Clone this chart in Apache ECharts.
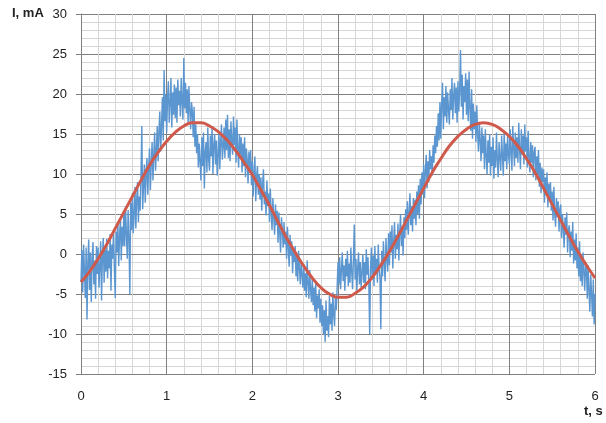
<!DOCTYPE html>
<html>
<head>
<meta charset="utf-8">
<script src="https://cdn.jsdelivr.net/npm/echarts@6/dist/echarts.min.js"></script>
<style>html,body{margin:0;padding:0;background:#fff}#chart{width:606px;height:423px}</style>
</head>
<body>
<div id="chart"></div>
<script>
// Time axis step for both series (s)
var noisyStep = 0.01;
var smoothStep = 0.1;
var xTicks = [0, 1, 2, 3, 4, 5, 6];
var yTicks = [-15, -10, -5, 0, 5, 10, 15, 20, 25, 30];
var yAxisTitle = 'I, mA';
var xAxisTitle = 't, s';

var measuredCurrent = [
-3.5,0.5,-4.8,1.2,-2.0,-5.5,0.8,-8.2,-1.0,1.8,
-4.5,0.2,-6.0,-0.5,1.5,-3.8,-0.8,-5.6,1.0,-2.5,
0.8,-4.2,-1.5,1.6,-5.8,-0.2,2.0,-3.6,0.5,-2.2,
1.9,-3.0,0.4,-1.8,2.5,-4.6,1.2,-0.6,3.0,-2.0,
-5.5,2.8,0.2,4.0,-1.5,2.2,4.5,-0.8,3.4,1.0,
5.2,1.0,6.0,2.4,-0.6,5.5,1.8,-5.0,6.4,3.0,
7.6,2.6,5.0,8.4,3.2,6.8,9.0,4.0,7.2,5.4,
9.8,16.0,5.6,8.6,11.2,6.4,10.0,12.0,7.4,10.8,
13.2,8.0,11.4,14.0,9.2,12.6,15.2,10.4,13.0,16.0,
11.6,15.4,17.8,12.8,16.0,19.6,14.2,23.0,16.6,20.0,
15.2,19.4,21.6,16.4,18.8,22.0,15.8,20.2,17.4,21.2,
17.0,20.8,16.4,21.8,18.6,20.4,17.2,22.0,19.0,16.8,
24.5,18.2,21.4,17.6,20.6,16.4,21.0,18.0,15.6,19.0,
17.8,14.6,18.4,13.4,16.2,12.6,15.0,10.8,13.8,11.6,
9.2,14.6,11.0,15.2,8.2,12.8,14.0,10.2,15.8,11.8,
10.4,14.8,12.2,16.0,10.0,13.6,15.0,11.2,14.2,9.8,
12.4,15.4,10.6,14.0,16.2,11.8,13.4,15.8,12.0,16.8,
13.0,17.4,12.0,15.6,11.6,16.6,14.0,12.4,17.2,13.6,
15.8,11.4,16.8,13.2,10.8,15.0,12.4,14.6,10.2,13.8,
11.0,14.6,9.6,13.2,11.8,8.8,12.8,10.2,13.0,8.6,
11.6,7.2,10.4,12.2,6.6,9.8,11.0,7.4,10.0,6.8,
9.6,5.4,8.8,10.6,6.2,7.8,4.8,9.2,6.0,7.6,
4.0,8.2,5.2,3.0,7.0,4.6,2.4,6.2,3.6,5.4,
1.4,5.2,2.6,0.2,4.6,3.0,0.8,4.0,1.2,2.8,
-0.6,3.4,0.8,-1.6,2.4,-0.2,1.6,-2.4,0.6,-1.0,
1.0,-2.8,-0.4,-3.4,0.4,-1.8,-3.8,-0.8,-2.6,-4.2,
-1.2,-4.6,-2.4,-5.4,-0.8,-3.6,-5.6,-2.0,-4.4,-6.0,
-3.0,-6.4,-4.2,-7.2,-3.6,-8.0,-5.2,-6.8,-4.4,-8.6,
-5.6,-9.0,-6.4,-10.0,-7.0,-11.0,-5.8,-9.6,-7.8,-10.4,
-5.2,-8.8,-6.2,-9.6,-4.8,-7.6,-9.0,-5.4,-7.0,-4.2,
-1.0,-3.8,-0.4,-4.4,-2.0,0.2,-3.4,-1.4,-4.6,-0.6,
-2.8,0.4,-4.0,-1.2,-3.6,0.8,-2.2,-4.4,-0.6,3.7,
-3.2,-0.6,-4.6,-1.8,0.2,-3.8,-1.0,-4.2,-2.4,0.0,
-3.6,-1.0,-4.4,0.6,-2.6,-0.4,-3.8,-10.0,-1.6,0.8,
-3.2,-0.2,-4.0,1.0,-2.4,-0.6,-3.6,1.2,-1.8,-3.0,
-9.4,0.4,-2.8,1.6,-1.2,-3.4,2.0,-0.6,-2.2,2.6,
-1.4,2.8,0.2,3.6,-1.8,1.6,4.0,-0.6,2.4,0.6,
3.8,-0.8,2.6,5.0,1.0,3.4,-0.2,4.6,2.0,5.6,
3.0,6.6,2.4,5.2,7.6,3.6,6.0,2.8,7.0,4.4,
6.8,3.6,7.8,5.0,8.6,4.4,9.4,6.2,10.2,7.4,
11.2,7.0,10.4,12.4,8.2,11.6,9.0,13.0,10.6,12.2,
9.8,13.6,11.4,14.8,12.6,16.0,13.4,17.6,14.2,19.0,
14.4,18.8,21.4,15.6,19.6,17.2,21.0,16.4,20.2,18.0,
16.2,20.6,18.0,22.0,16.8,19.8,21.4,17.6,20.8,16.4,
21.6,17.8,20.4,25.5,18.4,22.4,16.8,21.0,19.0,22.6,
17.4,21.8,16.6,22.8,18.2,15.4,20.6,14.4,18.8,15.6,
17.8,14.0,18.6,15.0,12.8,16.4,14.2,11.6,15.8,12.6,
14.8,10.6,15.6,12.2,10.0,14.2,11.4,15.0,9.8,13.4,
11.0,14.6,9.4,13.0,10.8,15.2,11.8,9.6,14.0,12.0,
10.4,14.8,12.2,9.8,15.4,11.6,13.8,10.6,15.0,12.4,
11.2,15.6,12.8,10.4,16.0,13.4,11.0,15.2,12.0,14.6,
11.4,16.4,13.0,10.6,15.6,12.4,14.8,11.2,16.2,12.8,
14.6,10.8,15.4,12.0,10.2,14.0,11.4,13.6,9.6,12.8,
13.4,9.2,12.2,10.0,13.0,8.4,11.4,7.6,10.8,9.0,
10.6,6.4,9.6,7.4,10.2,5.8,8.8,6.8,9.0,5.4,
7.8,4.2,8.4,5.0,3.4,7.0,4.6,6.6,2.8,5.6,
6.2,2.0,5.0,3.2,0.8,4.6,2.4,5.2,0.2,3.0,
3.6,-0.4,2.8,0.4,4.0,-1.2,1.8,-0.8,2.6,-1.8,
0.8,-2.8,1.6,-3.4,-0.4,-4.0,0.2,-2.2,-4.6,-1.0,
-2.0,-5.6,-1.4,-4.6,-7.2,-2.6,-5.0,-7.8,-3.2,-8.8,
-5.0
];

// Fitted current (red, smooth), one value per 0.1 s
var fittedCurrent = [
-3.5,-2.2,-0.6,1.2,3.2,5.2,7.2,9.2,11.1,12.7,
14.1,15.2,16.0,16.4,16.4,16.0,15.3,14.3,13.0,11.5,
9.9,8.0,6.1,4.0,2.0,0.2,-1.5,-3.0,-4.2,-5.0,
-5.4,-5.4,-4.9,-4.1,-2.9,-1.4,0.3,2.2,4.2,6.2,
8.2,10.2,11.9,13.5,14.7,15.6,16.2,16.4,16.2,15.6,
14.7,13.5,11.9,10.2,8.2,6.2,4.2,2.2,0.3,-1.4,
-3.0
];

var blueData = measuredCurrent.map(function (v, i) { return [+(i * noisyStep).toFixed(2), v]; });
var redData = fittedCurrent.map(function (v, i) { return [+(i * smoothStep).toFixed(1), v]; });

var font = 'Liberation Sans, Arial, sans-serif';
var chart = echarts.init(document.getElementById('chart'), null, { renderer: 'canvas' });
chart.setOption({
  animation: false,
  backgroundColor: '#ffffff',
  grid: { left: 81, right: 11, top: 14, bottom: 49, containLabel: false },
  xAxis: {
    type: 'value',
    min: xTicks[0], max: xTicks[xTicks.length - 1], interval: 1,
    axisLine: { show: true, lineStyle: { color: '#808080', width: 1 } },
    axisTick: { show: false },
    axisLabel: { margin: 16, fontSize: 13, color: '#222', fontFamily: font },
    splitLine: { show: true, lineStyle: { color: '#808080', width: 1 } },
    minorTick: { show: false, splitNumber: 5 },
    minorSplitLine: { show: true, lineStyle: { color: '#d6d6d6', width: 1 } }
  },
  yAxis: {
    type: 'value',
    min: yTicks[0], max: yTicks[yTicks.length - 1], interval: 5,
    axisLine: { show: true, lineStyle: { color: '#808080', width: 1 } },
    axisTick: { show: true, length: 5, lineStyle: { color: '#808080' } },
    axisLabel: { margin: 14, fontSize: 13, color: '#222', fontFamily: font },
    splitLine: { show: true, lineStyle: { color: '#808080', width: 1 } },
    minorTick: { show: false, splitNumber: 5 },
    minorSplitLine: { show: true, lineStyle: { color: '#d6d6d6', width: 1 } }
  },
  graphic: [
    { type: 'text', left: 12, top: 7, style: { text: yAxisTitle, font: 'bold 13px ' + font, fill: '#222' } },
    { type: 'text', left: 584, top: 405, style: { text: xAxisTitle, font: 'bold 13px ' + font, fill: '#222' } }
  ],
  series: [
    {
      type: 'line', data: blueData, showSymbol: false, symbol: 'none', sampling: null,
      lineStyle: { color: '#5b96d0', width: 1.4 }, z: 2
    },
    {
      type: 'line', data: redData, showSymbol: false, symbol: 'none', smooth: true,
      lineStyle: { color: '#cf5a4c', width: 3 }, z: 3
    }
  ]
});
</script>
</body>
</html>
